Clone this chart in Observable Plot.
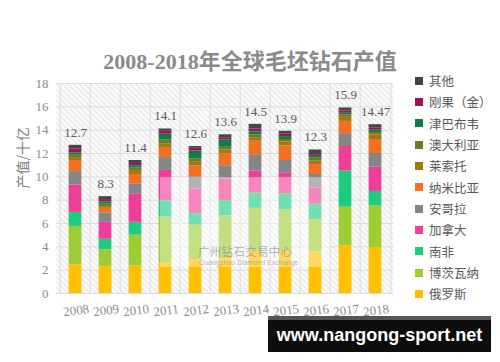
<!DOCTYPE html>
<html><head><meta charset="utf-8">
<script src="https://cdn.jsdelivr.net/npm/d3@7"></script>
<script src="https://cdn.jsdelivr.net/npm/@observablehq/plot@0.6"></script>
<style>
body{margin:0;background:#fff;}
#wrap{position:relative;width:500px;height:362px;overflow:hidden;font-family:"Noto Sans CJK SC",sans-serif;}
#chart{position:absolute;left:0;top:0;}
#title{position:absolute;left:0;top:43px;width:500px;text-align:center;font-weight:bold;font-size:22px;font-family:"Liberation Serif","Noto Sans CJK SC",serif;color:#8a8a8a;white-space:nowrap;}
#legend{position:absolute;left:415px;top:70px;}
.item{height:21.33px;display:flex;align-items:center;font-size:12.5px;color:#595959;white-space:nowrap;}
.sw{width:8px;height:8px;margin-right:6px;flex:none;}
#wm{position:absolute;left:160px;top:177px;width:170px;height:90px;background:rgba(255,255,255,0.38);}
#wm1{position:absolute;left:198px;top:245px;font-size:11.5px;line-height:12px;color:rgba(130,130,130,0.6);letter-spacing:0.3px;}
#wm2{position:absolute;left:199px;top:259px;font-size:7px;line-height:8px;color:rgba(130,130,130,0.6);font-family:"Liberation Sans",sans-serif;}
#banner{position:absolute;left:268px;top:316px;width:223px;height:32px;background:#0d0d0d;border-top:4px solid #555;color:#fff;font:bold 18px "Liberation Sans",sans-serif;text-align:center;line-height:30px;}
</style></head>
<body>
<div id="wrap">
  <div id="chart"></div>
  <div id="title">2008-2018年全球毛坯钻石产值</div>
  <div id="legend"></div>
  <div id="wm"></div>
  <div id="wm1">广州钻石交易中心</div>
  <div id="wm2">Guangzhou Diamond Exchange</div>
  <div id="banner">www.nangong-sport.net</div>
</div>
<script>
const years = ["2008","2009","2010","2011","2012","2013","2014","2015","2016","2017","2018"];
const totalLabels = ["12.7","8.3","11.4","14.1","12.6","13.6","14.5","13.9","12.3","15.9","14.47"];
// stacking order, bottom to top
const countries = ["俄罗斯","博茨瓦纳","南非","加拿大","安哥拉","纳米比亚","莱索托","澳大利亚","津巴布韦","刚果（金）","其他"];
const colors = ["#ffc000","#9dcc35","#1ecb80","#ef3e97","#858585","#f36f21","#a07a10","#6d7b22","#117a4a","#9e1257","#454545"];
const russia      = [2.45,2.3,2.35,2.65,2.9,3.0,3.6,3.6,3.55,4.1,3.95];
const botswana    = [3.3,1.45,2.65,3.9,2.95,3.65,3.7,3.55,2.8,3.3,3.55];
const southAfrica = [1.2,0.9,1.1,1.4,1.0,1.3,1.3,1.4,1.3,3.1,1.25];
const canada      = [2.35,1.45,2.4,2.6,2.1,1.85,1.9,1.8,1.4,2.1,2.1];
const angola      = [1.15,0.8,0.9,1.1,1.05,1.15,1.4,1.05,1.15,1.1,1.15];
const namibia     = [0.95,0.4,0.8,0.8,0.95,1.0,1.15,1.25,0.85,1.05,1.2];
const lesotho     = [0.25,0.15,0.35,0.35,0.3,0.35,0.3,0.35,0.3,0.35,0.4];
const australia   = [0.2,0.2,0.2,0.35,0.3,0.3,0.25,0.2,0.25,0.2,0.2];
const zimbabwe    = [0.2,0.2,0.2,0.5,0.65,0.55,0.25,0.25,0.15,0.15,0.2];
const congo       = [0.35,0.2,0.2,0.25,0.25,0.2,0.25,0.2,0.15,0.2,0.2];
const other       = [0.3,0.25,0.25,0.2,0.15,0.25,0.4,0.25,0.4,0.25,0.27];
const yTicks = [0,2,4,6,8,10,12,14,16,18];

const series = [russia,botswana,southAfrica,canada,angola,namibia,lesotho,australia,zimbabwe,congo,other];
const rows = [];
series.forEach((vals, ci) => vals.forEach((v, yi) => rows.push({year: years[yi], country: countries[ci], value: v})));
const totals = years.map((y, i) => ({year: y, total: d3.sum(series, s => s[i]), label: totalLabels[i]}));

const W = 500, H = 362, mL = 56, mR = 107, mT = 83, mB = 69;
const step = (W - mL - mR) / years.length;
const inset = (step - 13.4) / 2;
const grid = "#dcdcdc";

const svg = Plot.plot({
  width: W, height: H,
  marginLeft: mL, marginRight: mR, marginTop: mT, marginBottom: mB,
  style: {fontFamily: "'Liberation Serif', serif", fontSize: "13px", color: "#8c8c8c", background: "transparent"},
  x: {domain: years, padding: 0, label: null},
  y: {domain: [0, 18], label: null},
  color: {domain: countries, range: colors},
  marks: [
    Plot.frame({fill: "url(#hatch)", stroke: null}),
    Plot.ruleY(yTicks, {stroke: grid, strokeWidth: 1}),
    Plot.ruleX(years, {x: d => d, dx: -step / 2, stroke: grid}),
    Plot.ruleX(years.slice(-1), {x: d => d, dx: step / 2, stroke: grid}),
    Plot.barY(rows, {x: "year", y: "value", fill: "country", order: countries, insetLeft: inset, insetRight: inset}),
    Plot.text(totals, {x: "year", y: "total", text: "label", dy: -13, fontSize: 13, fill: "#595959", fontFamily: "'Liberation Serif', serif"}),
    Plot.axisY({ticks: yTicks, tickSize: 0, tickPadding: 8, fontSize: 13, label: null}),
    Plot.axisX({tickSize: 0, tickPadding: 12, tickRotate: -7, fontSize: 13, label: null}),
    Plot.text(["产值/十亿"], {frameAnchor: "left", rotate: -90, dx: -33, fontSize: 14, fill: "#7f7f7f", fontFamily: "'Noto Sans CJK SC', sans-serif"})
  ]
});

const defs = d3.select(svg).insert("defs", ":first-child");
const pat = defs.append("pattern").attr("id", "hatch").attr("patternUnits", "userSpaceOnUse")
  .attr("width", 4).attr("height", 4).attr("patternTransform", "rotate(-45)");
pat.append("rect").attr("width", 4).attr("height", 4).attr("fill", "#fbfbfb");
pat.append("line").attr("x1", 0.5).attr("y1", 0).attr("x2", 0.5).attr("y2", 4).attr("stroke", "#e4e4e4").attr("stroke-width", 1);

document.getElementById("chart").appendChild(svg);

const legend = d3.select("#legend");
countries.slice().reverse().forEach((c) => {
  const i = countries.indexOf(c);
  const it = legend.append("div").attr("class", "item");
  it.append("div").attr("class", "sw").style("background", colors[i]);
  it.append("span").text(c);
});
</script>
</body></html>
